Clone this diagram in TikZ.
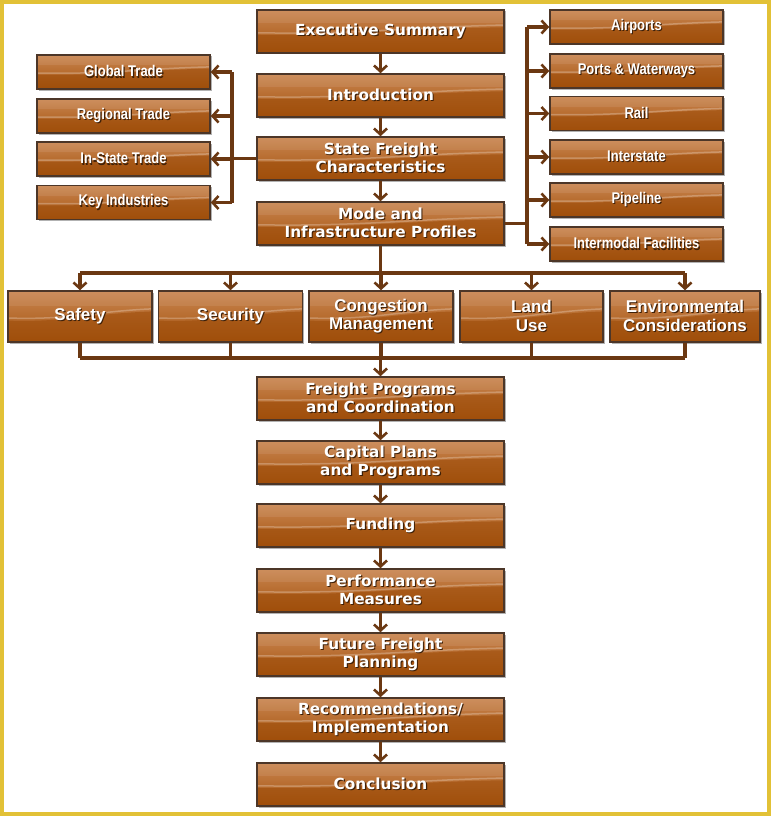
\documentclass[tikz,border=0pt]{standalone}
\usepackage{fontspec}
\setmainfont{DejaVu Sans}
\newfontfamily\condfont{Liberation Sans}[FakeStretch=0.84]
\newfontfamily\midfont{Liberation Sans}
\usetikzlibrary{arrows.meta,shadows,calc}
\definecolor{boxtop}{HTML}{C98550}
\definecolor{boxbot}{HTML}{A5540F}
\definecolor{boxdark}{HTML}{9C4A06}
\definecolor{boxline}{HTML}{4C3628}
\definecolor{arrowc}{HTML}{6B3812}
\definecolor{framec}{HTML}{E2C136}
\definecolor{tshadow}{HTML}{3E2008}
\newcommand{\ts}[1]{\leavevmode\rlap{\kern1.1pt\raisebox{-1.1pt}{\textcolor{tshadow}{#1}}}#1}
\tikzset{
  conn/.style={draw=arrowc, line width=3.2pt},
  arr/.style={conn, -{Straight Barb[length=6pt,width=13pt,line width=2.6pt]}},
  boxbase/.style={draw=boxline, line width=1.5pt, inner sep=2pt, align=center,
    text=white, top color=boxtop, bottom color=boxbot,
    drop shadow={shadow xshift=1.5pt, shadow yshift=-1.5pt, opacity=0.3, fill=black},
    path picture={
      \fill[boxdark, opacity=0.55]
        ($(path picture bounding box.south west)!0.42!(path picture bounding box.north west)$)
        .. controls ($(path picture bounding box.south west)!0.38!(path picture bounding box.north east)$)
        and ($(path picture bounding box.south west)!0.55!(path picture bounding box.north east)$)
        .. ($(path picture bounding box.south east)!0.6!(path picture bounding box.north east)$)
        -- (path picture bounding box.south east) -- (path picture bounding box.south west) -- cycle;
      \draw[white, opacity=0.25, line width=1.5pt]
        ($(path picture bounding box.south west)!0.47!(path picture bounding box.north west)$)
        .. controls ($(path picture bounding box.south west)!0.43!(path picture bounding box.north east)$)
        and ($(path picture bounding box.south west)!0.6!(path picture bounding box.north east)$)
        .. ($(path picture bounding box.south east)!0.65!(path picture bounding box.north east)$);
      \fill[white, opacity=0.08]
        (path picture bounding box.north west) rectangle
        ($(path picture bounding box.north east)!0.3!(path picture bounding box.south east)$);
    }},
  mainbox/.style={boxbase, minimum width=247pt, minimum height=43pt,
    font=\bfseries\fontsize{15.3}{18}\selectfont},
  sidebox/.style={boxbase, minimum width=173pt, minimum height=34pt,
    font=\condfont\bfseries\fontsize{15.5}{18}\selectfont},
  midbox/.style={boxbase, minimum height=51pt,
    font=\midfont\bfseries\fontsize{17}{18.5}\selectfont},
}
\begin{document}
\begin{tikzpicture}[x=1pt,y=-1pt]
\useasboundingbox (0,0) rectangle (771,816);
\fill[white] (0,0) rectangle (771,816);
\draw[framec, line width=4pt] (2,2) rectangle (769,814);

% main column
\node[mainbox] (exec) at (380.5,31.5) {\ts{Executive Summary}};
\node[mainbox] (intro) at (380.5,95.5) {\ts{Introduction}};
\node[mainbox] (state) at (380.5,158.5) {\ts{State Freight}\\\ts{Characteristics}};
\node[mainbox] (mode) at (380.5,223.5) {\ts{Mode and}\\\ts{Infrastructure Profiles}};
\node[mainbox] (fp) at (380.5,398.5) {\ts{Freight Programs}\\\ts{and Coordination}};
\node[mainbox] (cp) at (380.5,462.5) {\ts{Capital Plans}\\\ts{and Programs}};
\node[mainbox] (fund) at (380.5,525.5) {\ts{Funding}};
\node[mainbox] (perf) at (380.5,590.5) {\ts{Performance}\\\ts{Measures}};
\node[mainbox] (fut) at (380.5,654.5) {\ts{Future Freight}\\\ts{Planning}};
\node[mainbox] (rec) at (380.5,719.5) {\ts{Recommendations/}\\\ts{Implementation}};
\node[mainbox] (concl) at (380.5,784.5) {\ts{Conclusion}};

% left boxes
\node[sidebox] (gt) at (123.5,72) {\ts{Global Trade}};
\node[sidebox] (rt) at (123.5,116) {\ts{Regional Trade}};
\node[sidebox] (ist) at (123.5,159) {\ts{In-State Trade}};
\node[sidebox] (ki) at (123.5,202.5) {\ts{Key Industries}};

% right boxes
\node[sidebox] (air) at (636.5,27) {\ts{Airports}};
\node[sidebox] (port) at (636.5,71) {\ts{Ports \& Waterways}};
\node[sidebox] (rail) at (636.5,113.5) {\ts{Rail}};
\node[sidebox] (inter) at (636.5,157) {\ts{Interstate}};
\node[sidebox] (pipe) at (636.5,200) {\ts{Pipeline}};
\node[sidebox] (imf) at (636.5,244) {\ts{Intermodal Facilities}};

% middle row
\node[midbox, minimum width=144pt] (safe) at (80,316.5) {\ts{Safety}};
\node[midbox, minimum width=144pt] (sec) at (230.5,316.5) {\ts{Security}};
\node[midbox, minimum width=144pt] (cong) at (381,316.5) {\ts{Congestion}\\\ts{Management}};
\node[midbox, minimum width=143pt] (land) at (531.5,316.5) {\ts{Land}\\\ts{Use}};
\node[midbox, minimum width=150pt] (env) at (685,316.5) {\ts{Environmental}\\\ts{Considerations}};

% bus coordinates
\coordinate (lx) at (232,0);
\coordinate (rx) at (527,0);
\coordinate (tb) at (0,273);
\coordinate (bb) at (0,358);

% main chain
\draw[arr] (exec) -- (intro);
\draw[arr] (intro) -- (state);
\draw[arr] (state) -- (mode);
\draw[arr] (fp) -- (cp);
\draw[arr] (cp) -- (fund);
\draw[arr] (fund) -- (perf);
\draw[arr] (perf) -- (fut);
\draw[arr] (fut) -- (rec);
\draw[arr] (rec) -- (concl);

% left branch
\draw[conn] (state.west) -- (state.west -| lx);
\draw[conn] (lx |- gt.east) -- (lx |- ki.east);
\foreach \n in {gt,rt,ist,ki} \draw[arr] (lx |- \n.east) -- (\n.east);

% right branch
\draw[conn] (mode.east) -- (mode.east -| rx);
\draw[conn] (rx |- air.west) -- (rx |- imf.west);
\foreach \n in {air,port,rail,inter,pipe,imf} \draw[arr] (rx |- \n.west) -- (\n.west);

% top bus
\draw[conn] (mode.south) -- (mode.south |- tb);
\draw[conn] (safe.north |- tb) -- (env.north |- tb);
\foreach \n in {safe,sec,cong,land,env} \draw[arr] (\n.north |- tb) -- (\n.north);

% bottom bus
\foreach \n in {safe,sec,cong,land,env} \draw[conn] (\n.south) -- (\n.south |- bb);
\draw[conn] (safe.south |- bb) -- (env.south |- bb);
\draw[arr] (fp.north |- bb) -- (fp.north);
\end{tikzpicture}
\end{document}
